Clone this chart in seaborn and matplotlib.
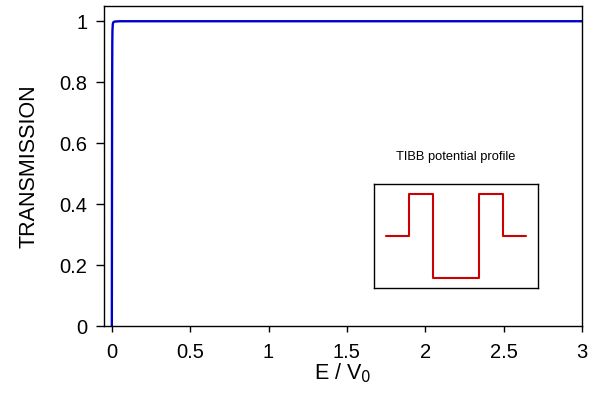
import numpy as np
import pandas as pd
import matplotlib
matplotlib.use("Agg")
import matplotlib.pyplot as plt
import seaborn as sns

# Transmission curve
energy = [0.0, 0.001, 0.002, 0.003, 0.004, 0.006, 0.008, 0.012, 0.02, 0.05, 0.1, 0.5, 1.0, 1.5, 2.0, 2.5, 3.0]
transmission = [0.0, 0.45, 0.8, 0.93, 0.97, 0.99, 0.995, 0.998, 0.999, 1.0, 1.0, 1.0, 1.0, 1.0, 1.0, 1.0, 1.0]

# Inset potential profile (step edges and levels)
profile_x = [0, 1, 2, 4, 5, 6]
profile_v = [0, 1, -1, 1, 0, 0]

xticks = [0, 0.5, 1, 1.5, 2, 2.5, 3]
xticklabels = ["0", "0.5", "1", "1.5", "2", "2.5", "3"]
yticks = [0, 0.2, 0.4, 0.6, 0.8, 1]
yticklabels = ["0", "0.2", "0.4", "0.6", "0.8", "1"]

sns.set_theme(style="ticks")
plt.rcParams['font.family'] = ['Liberation Sans', 'DejaVu Sans']
plt.rcParams['text.color'] = 'black'
plt.rcParams['axes.labelcolor'] = 'black'
plt.rcParams['xtick.color'] = 'black'
plt.rcParams['ytick.color'] = 'black'

fig = plt.figure(figsize=(6.04, 3.94), dpi=100)
ax = fig.add_axes([104/604, 1-326/394, 478/604, 320/394])

df = pd.DataFrame({"E": energy, "T": transmission})
sns.lineplot(data=df, x="E", y="T", ax=ax, color="#0000cc", linewidth=1.7, estimator=None, sort=False)
ax.set_xlim(-0.05, 3.0)
ax.set_ylim(0, 1.05)
ax.set_xticks(xticks)
ax.set_xticklabels(xticklabels)
ax.set_yticks(yticks)
ax.set_yticklabels(yticklabels)
ax.tick_params(axis="both", direction="out", width=1, labelsize=14.5, colors="black")
ax.tick_params(axis="x", length=4, pad=8)
ax.tick_params(axis="y", length=6, pad=6)
ax.set_xlabel("E / V$_0$", fontsize=15.5, labelpad=0, color="black")
ax.set_ylabel("TRANSMISSION", fontsize=15.5, labelpad=14, color="black")
for s in ax.spines.values():
    s.set_visible(True)
    s.set_linewidth(1.0)
    s.set_color("black")

# Inset
ins = fig.add_axes([374/604, 1-288/394, 164/604, 104/394])
dfp = pd.DataFrame({"x": profile_x, "v": profile_v})
sns.lineplot(data=dfp, x="x", y="v", ax=ins, color="#cc0000", linewidth=1.5,
             estimator=None, sort=False, drawstyle="steps-post")
ins.set_xlim(-0.5, 6.5)
ins.set_ylim(-1.24, 1.24)
ins.set_xticks([])
ins.set_yticks([])
ins.set_xlabel("")
ins.set_ylabel("")
for s in ins.spines.values():
    s.set_visible(True)
    s.set_linewidth(1.0)
    s.set_color("black")
fig.text(456/604, 1-157/394, "TIBB potential profile", fontsize=9.3, ha="center", va="center", color="black")

fig.savefig("out.png", dpi=100)
